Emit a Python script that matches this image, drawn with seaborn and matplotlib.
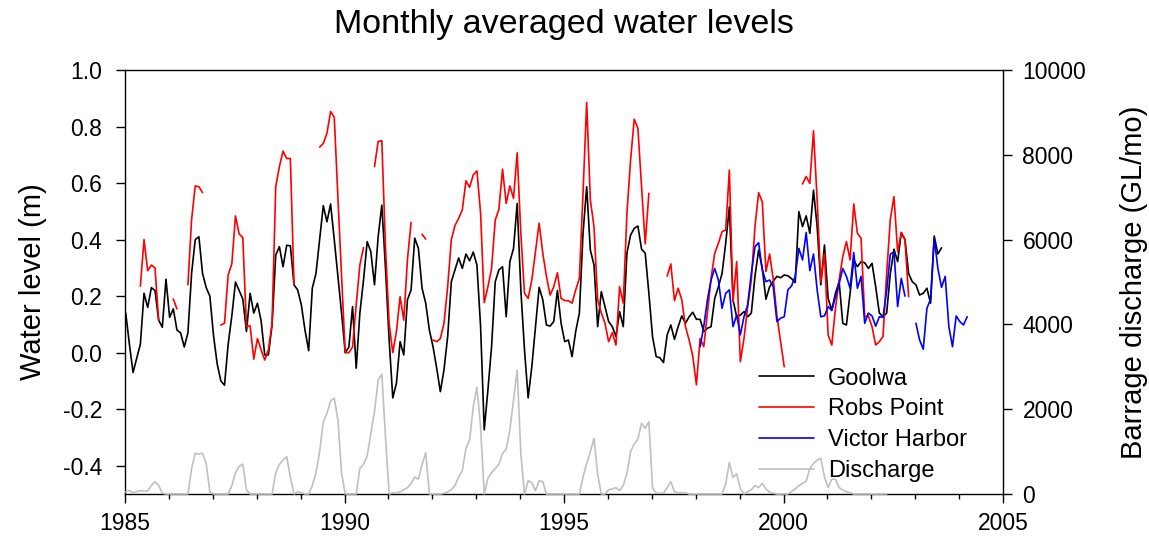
import numpy as np
import pandas as pd
import matplotlib
matplotlib.use("Agg")
import matplotlib.pyplot as plt
from matplotlib.lines import Line2D
from matplotlib.ticker import FormatStrFormatter, FixedLocator
import seaborn as sns

nan = np.nan

# ---------------- data (monthly values) ----------------
start_year = 1985

goolwa_start = 0
goolwa = [
    0.14, 0.03, -0.07, -0.02, 0.03, 0.21, 0.16, 0.23, 0.22, 0.115,
    0.09, 0.26, 0.125, 0.155, 0.08, 0.07, 0.02, 0.07, 0.28, 0.40,
    0.41, 0.28, 0.23, 0.20, 0.06, -0.04, -0.10, -0.115, 0.03, 0.13,
    0.25, 0.22, 0.19, 0.075, 0.21, 0.14, 0.175, 0.113, -0.008, -0.008,
    0.098, 0.345, 0.375, 0.304, 0.38, 0.378, 0.24, 0.222, 0.169, 0.08,
    0.007, 0.228, 0.28, 0.40, 0.52, 0.463, 0.526, 0.40, 0.27, 0.14,
    0.0, 0.02, 0.163, -0.055, 0.14, 0.257, 0.393, 0.357, 0.24, 0.41,
    0.522, 0.30, 0.045, -0.16, -0.108, 0.039, -0.008, 0.187, 0.222, 0.405,
    0.369, 0.228, 0.175, 0.08, 0.021, -0.055, -0.138, -0.06, 0.057, 0.251,
    0.293, 0.335, 0.298, 0.349, 0.325, 0.356, 0.31, 0.092, -0.273, -0.132,
    0.021, 0.251, 0.293, 0.304, 0.127, 0.322, 0.369, 0.528, 0.222, 0.01,
    -0.16, -0.05, 0.092, 0.231, 0.187, 0.098, 0.094, 0.11, 0.22, 0.104,
    0.039, 0.045, -0.014, 0.075, 0.14, 0.422, 0.587, 0.363, 0.31, 0.092,
    0.216, 0.163, 0.11, 0.092, 0.057, 0.145, 0.092, 0.352, 0.416, 0.44,
    0.448, 0.366, 0.352, 0.21, 0.057, -0.014, -0.018, -0.035, 0.063, 0.098,
    0.047, 0.092, 0.13, 0.104, 0.127, 0.143, 0.118, 0.118, 0.075, 0.086,
    0.092, 0.192, 0.233, 0.28, 0.387, 0.516, 0.187, 0.127, 0.133, 0.145,
    0.127, 0.14, 0.27, 0.363, 0.298, 0.189, 0.233, 0.253, 0.27, 0.265,
    0.275, 0.272, 0.262, 0.248, 0.499, 0.446, 0.484, 0.422, 0.575, 0.446,
    0.24, 0.381, 0.192, 0.151, 0.21, 0.251, 0.104, 0.098, 0.21, 0.328,
    0.304, 0.322, 0.318, 0.298, 0.316, 0.233, 0.14, 0.127, 0.14, 0.28,
    0.366, 0.322, 0.425, 0.40, 0.28, 0.251, 0.24, 0.204, 0.21, 0.228,
    0.175, 0.413, 0.349, 0.371,
]

robs_start = 0
robs_point = [
    nan, nan, nan, nan, 0.235, 0.40, 0.29, 0.31, 0.30, 0.115,
    nan, nan, nan, 0.19, 0.155, nan, nan, 0.24, 0.47, 0.59,
    0.587, 0.566, nan, nan, nan, nan, 0.098, 0.104, 0.275, 0.314,
    0.484, 0.42, 0.407, 0.092, 0.095, -0.023, 0.05, 0.01, -0.026, 0.01,
    0.104, 0.587, 0.658, 0.713, 0.687, 0.687, 0.243, nan, nan, nan,
    nan, nan, nan, 0.727, 0.74, 0.776, 0.853, 0.833, 0.55, 0.27,
    0.0, 0.0, 0.02, 0.17, 0.31, 0.372, nan, nan, 0.658, 0.747,
    0.75, 0.375, 0.104, 0.0, 0.075, 0.198, 0.115, 0.328, 0.461, nan,
    nan, 0.419, 0.402, nan, 0.045, 0.039, 0.05, 0.104, 0.233, 0.40,
    0.45, 0.475, 0.505, 0.608, 0.585, 0.629, 0.643, 0.493, 0.177, 0.233,
    0.298, 0.469, 0.507, 0.649, 0.528, 0.59, 0.546, 0.707, 0.422, 0.21,
    0.192, 0.257, 0.357, 0.458, 0.352, 0.27, 0.204, 0.233, 0.283, 0.192,
    0.184, 0.184, 0.175, 0.222, 0.263, 0.564, 0.885, 0.54, 0.446, 0.187,
    0.14, 0.104, 0.039, 0.071, 0.027, 0.233, 0.175, 0.493, 0.682, 0.826,
    0.794, 0.587, 0.385, 0.564, nan, nan, nan, nan, 0.271, 0.314,
    0.184, 0.228, 0.187, 0.092, 0.045, -0.012, -0.114, 0.05, 0.021, 0.14,
    0.263, 0.352, 0.387, 0.428, 0.434, 0.646, 0.18, 0.322, -0.032, 0.05,
    0.163, 0.257, 0.446, 0.566, 0.534, 0.287, 0.349, 0.26, 0.13, 0.04,
    -0.05, nan, nan, nan, nan, 0.597, 0.623, 0.599, 0.785, 0.54,
    0.25, 0.35, 0.063, 0.027, 0.157, 0.257, 0.34, 0.393, 0.328, 0.526,
    0.422, 0.405, 0.127, 0.13, 0.092, 0.027, 0.039, 0.057, 0.28, 0.472,
    0.552, 0.357, 0.425, 0.40, 0.198,
]

victor_start = 157
victor_harbor = [
    0.021, 0.092, 0.187, 0.257, 0.298, 0.257, 0.157, 0.21, 0.222, 0.092,
    0.133, 0.063, 0.127, 0.169, 0.28, 0.375, 0.389, 0.293, 0.251, 0.257,
    0.233, 0.11, 0.122, 0.127, 0.222, 0.236, 0.27, 0.369, 0.328, 0.425,
    0.29, 0.349, 0.222, 0.127, 0.13, 0.163, 0.149, 0.198, 0.243, 0.298,
    0.27, 0.228, 0.354, 0.228, 0.27, 0.104, 0.14, 0.13, 0.094, 0.127,
    0.125, 0.22, 0.349, 0.356, 0.163, 0.263, 0.2, nan, nan, 0.104,
    0.045, 0.012, 0.157, 0.189, 0.405, 0.298, 0.231, 0.27, 0.092, 0.021,
    0.13, 0.11, 0.098, 0.127,
]

discharge_start = 0
discharge = [
    50, 80, 30, 60, 80, 70, 70, 200, 290, 200,
    20, 0, 0, 0, 0, 0, 0, 0, 600, 960,
    940, 960, 720, 50, 0, 0, 0, 0, 0, 200,
    500, 650, 707, 100, 0, 0, 0, 0, 0, 0,
    0, 500, 700, 800, 880, 400, 0, 50, 30, 0,
    0, 200, 500, 1000, 1700, 1900, 2200, 2257, 1745, 488,
    0, 0, 0, 0, 606, 700, 900, 1430, 1950, 2689,
    2830, 1351, 0, 30, 30, 50, 100, 150, 250, 400,
    350, 700, 974, 0, 0, 0, 0, 20, 50, 100,
    200, 400, 550, 1077, 1274, 2058, 2516, 1587, 0, 370,
    500, 600, 700, 960, 1054, 1509, 2217, 2925, 960, 0,
    314, 267, 79, 314, 290, 0, 0, 0, 0, 0,
    0, 0, 0, 0, 0, 400, 724, 1000, 1313, 464,
    0, 0, 100, 120, 150, 80, 200, 488, 1000, 1180,
    1300, 1667, 1549, 1705, 150, 20, 20, 20, 150, 290,
    50, 30, 30, 30, 0, 0, 0, 0, 0, 0,
    0, 0, 0, 0, 240, 739, 390, 480, 120, 0,
    50, 100, 200, 150, 250, 120, 40, 20, 0, 0,
    0, 0, 60, 120, 200, 250, 300, 600, 720, 800,
    842, 400, 150, 350, 350, 150, 100, 50, 30, 0,
    0, 0, 0, 0, 0, 0, 0, 0, 0,
]

series_names = ["Goolwa", "Robs Point", "Victor Harbor", "Discharge"]
series_colors = ["black", "#ff0000", "#0000ff", "#c0c0c0"]
y_ticks = [-0.4, -0.2, 0.0, 0.2, 0.4, 0.6, 0.8, 1.0]
y2_ticks = [0, 2000, 4000, 6000, 8000, 10000]
x_major = [1985, 1990, 1995, 2000, 2005]
x_minor = list(range(1985, 2006))


def series_frame(values, start):
    vals = np.asarray(values, dtype=float)
    months = start + np.arange(len(vals))
    year = start_year + (months + 0.2) / 12.0
    seg = np.cumsum(np.isnan(vals))
    df = pd.DataFrame({"year": year, "value": vals, "seg": seg})
    return df.dropna()


df_g = series_frame(goolwa, goolwa_start)
df_r = series_frame(robs_point, robs_start)
df_v = series_frame(victor_harbor, victor_start)
df_d = series_frame(discharge, discharge_start)

# ---------------- style ----------------
sns.set_style("ticks")
plt.rcParams["font.family"] = ["Liberation Sans", "DejaVu Sans"]
plt.rcParams["axes.unicode_minus"] = False
plt.rcParams["text.color"] = "black"
plt.rcParams["axes.labelcolor"] = "black"
plt.rcParams["xtick.color"] = "black"
plt.rcParams["ytick.color"] = "black"
plt.rcParams["axes.edgecolor"] = "black"

fig = plt.figure(figsize=(11.49, 5.42), dpi=100)
ax = fig.add_axes([125 / 1149, 1 - 494 / 542, 878 / 1149, 424 / 542])
ax2 = ax.twinx()

lw = 1.2
for df, col in zip([df_g, df_r, df_v], series_colors[:3]):
    sns.lineplot(data=df, x="year", y="value", units="seg", estimator=None,
                 color=col, lw=lw, ax=ax, legend=False)

sns.lineplot(data=df_d, x="year", y="value", units="seg", estimator=None,
             color=series_colors[3], lw=lw, ax=ax2, legend=False)
for ln in ax2.get_lines():
    ln.set_clip_on(False)

# axes ranges
ax.set_xlim(1985, 2005)
ax.set_ylim(-0.5, 1.0)
ax2.set_ylim(0, 10000)

ax.xaxis.set_major_locator(FixedLocator(x_major))
ax.xaxis.set_minor_locator(FixedLocator(x_minor))
ax.yaxis.set_major_locator(FixedLocator(y_ticks))
ax.yaxis.set_major_formatter(FormatStrFormatter("%.1f"))
ax2.yaxis.set_major_locator(FixedLocator(y2_ticks))
ax2.yaxis.set_major_formatter(FormatStrFormatter("%d"))

for sp in ax.spines.values():
    sp.set_linewidth(1.0)
    sp.set_color("black")
for name in ["bottom", "top", "left"]:
    ax2.spines[name].set_visible(False)
ax2.spines["right"].set_linewidth(1.0)
ax.spines["right"].set_visible(False)

ax.tick_params(axis="x", which="major", direction="out", length=6.5, width=1.0,
               labelsize=16.5, pad=6.5, top=False)
ax.tick_params(axis="x", which="minor", direction="out", length=3.6, width=1.0, top=False)
ax.tick_params(axis="y", which="major", direction="out", length=6.5, width=1.0,
               labelsize=16.5, pad=10, right=False)
ax2.tick_params(axis="y", which="major", direction="out", length=6.5, width=1.0,
                labelsize=16.5, pad=7.5, left=False)

ax.set_xlabel("")
ax.set_ylabel("Water level (m)", fontsize=21, labelpad=11.5)
ax2.set_ylabel("Barrage discharge (GL/mo)", fontsize=21, labelpad=24)
ax.set_title("Monthly averaged water levels", fontsize=24.5, pad=27)

handles = [Line2D([], [], color=c, lw=lw) for c in series_colors]
ax2.legend(handles, series_names, loc="upper left", bbox_to_anchor=(0.722, 0.298),
           frameon=False, fontsize=17, handlelength=2.33, handletextpad=0.6,
           labelspacing=0.37, borderpad=0, borderaxespad=0)

fig.savefig("out.png", dpi=100)
